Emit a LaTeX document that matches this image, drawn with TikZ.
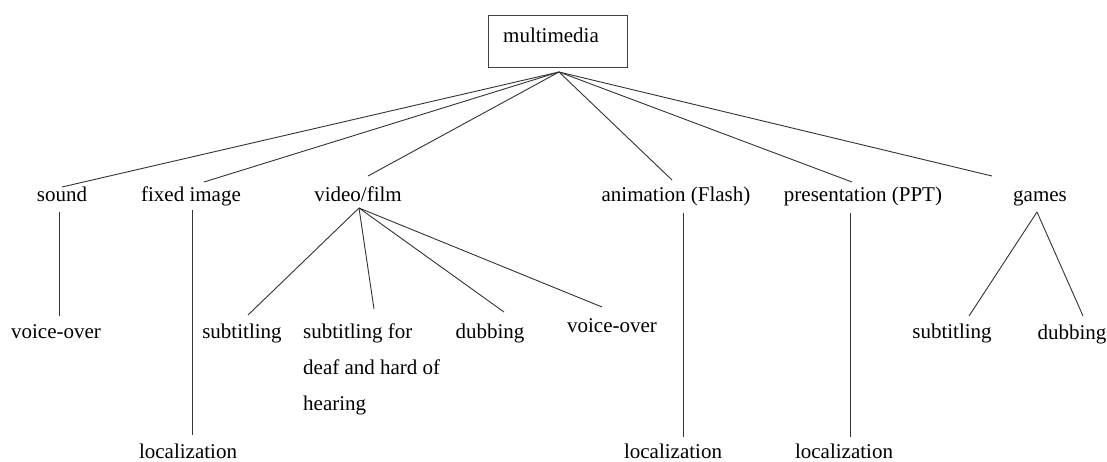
\documentclass[tikz,border=0pt]{standalone}
\usepackage{fontspec}
\setmainfont{Liberation Serif}
\begin{document}
\begin{tikzpicture}[x=1pt,y=-1pt,
  lbl/.style={inner sep=0pt,anchor=base,font=\fontsize{21}{36}\selectfont,text=black},
  conn/.style={draw=black!80,line width=0.9pt}]
\useasboundingbox[fill=white] (0,0) rectangle (1107,461);
% root
\node[draw=black!75,line width=0.9pt,minimum width=139pt,minimum height=52pt,inner sep=0pt] (box) at (557.5,41) {};
\node[lbl] (mm) at (551,42) {multimedia};
\coordinate (apex) at (559,72);
% level 1
\node[lbl] (sound) at (62,201) {sound};
\node[lbl] (fixed) at (191,201) {fixed image};
\node[lbl] (video) at (358,201) {video/film};
\node[lbl] (anim) at (676,201) {animation (Flash)};
\node[lbl] (pres) at (863,201) {presentation (PPT)};
\node[lbl] (games) at (1040,201) {games};
\coordinate (e1) at (62,187);
\coordinate (e2) at (204,182);
\coordinate (e3) at (368,176);
\coordinate (e4) at (672,180);
\coordinate (e5) at (852,182);
\coordinate (e6) at (992,176);
\foreach \e in {e1,e2,e3,e4,e5,e6} \draw[conn] (apex) -- (\e);
% level 2
\node[lbl] (vo1) at (56,338) {voice-over};
\node[lbl] (loc1) at (188,458) {localization};
\node[lbl] (sub1) at (242,338) {subtitling};
\node[lbl,anchor=north west,align=left] (sdh) at (303,323.5) {subtitling for\\deaf and hard of\\hearing};
\node[lbl] (dub1) at (490,338) {dubbing};
\node[lbl] (vo2) at (612,332) {voice-over};
\node[lbl] (loc2) at (673,458) {localization};
\node[lbl] (loc3) at (844,458) {localization};
\node[lbl] (sub2) at (952,338) {subtitling};
\node[lbl] (dub2) at (1072,339) {dubbing};
% sound
\coordinate (s0) at (59,212); \coordinate (s1) at (59,316);
\draw[conn] (s0) -- (s1);
% fixed image
\coordinate (f0) at (192,210); \coordinate (f1) at (192,435);
\draw[conn] (f0) -- (f1);
% video/film
\coordinate (v0) at (359,208);
\coordinate (v1) at (248,315);
\coordinate (v2) at (374,309);
\coordinate (v3) at (504,312);
\coordinate (v4) at (602,307);
\foreach \e in {v1,v2,v3,v4} \draw[conn] (v0) -- (\e);
% animation
\coordinate (a0) at (683,213); \coordinate (a1) at (683,437);
\draw[conn] (a0) -- (a1);
% presentation
\coordinate (p0) at (850,213); \coordinate (p1) at (850,437);
\draw[conn] (p0) -- (p1);
% games
\coordinate (g0) at (1037,212);
\coordinate (g1) at (969,316);
\coordinate (g2) at (1083,316);
\draw[conn] (g0) -- (g1);
\draw[conn] (g0) -- (g2);
\end{tikzpicture}
\end{document}
